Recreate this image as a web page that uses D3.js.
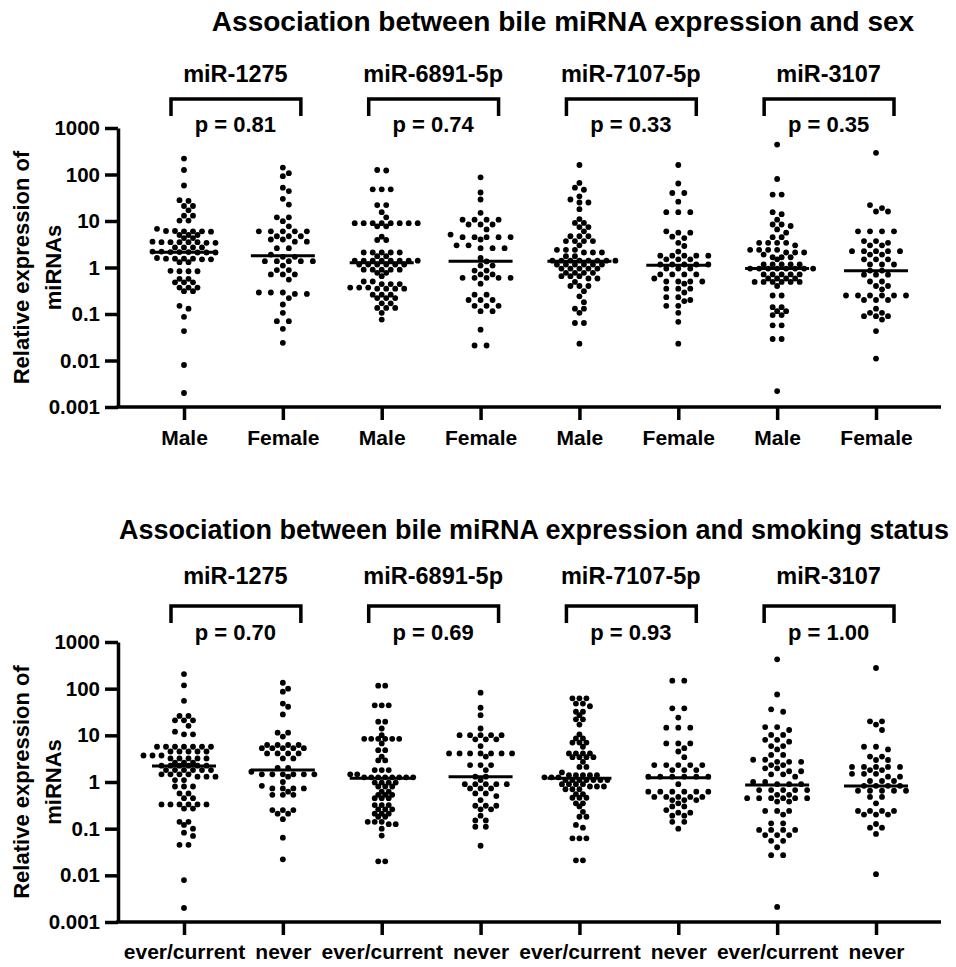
<!DOCTYPE html>
<html>
<head>
<meta charset="utf-8">
<script src="https://cdn.jsdelivr.net/npm/d3@7"></script>
<style>
  body { margin: 0; background: #fff; }
  svg { font-family: "Liberation Sans", Arial, sans-serif; font-weight: bold; }
</style>
</head>
<body>
<svg id="chart" width="956" height="967"></svg>
<script>
// ---- data ----
const mirnas = ["miR-1275", "miR-6891-5p", "miR-7107-5p", "miR-3107"];
const sexCategories = ["Male", "Female"];
const smokingCategories = ["ever/current", "never"];
const sexPValues = ["0.81", "0.74", "0.33", "0.35"];
const smokingPValues = ["0.70", "0.69", "0.93", "1.00"];
const sexMedians = [2.13, 1.8, 1.26, 1.37, 1.37, 1.12, 0.95, 0.85];
const smokingMedians = [2.2, 1.8, 1.2, 1.3, 1.2, 1.24, 0.86, 0.82];
const yTicks = [1000, 100, 10, 1, 0.1, 0.01, 0.001];
const yTickLabels = ["1000", "100", "10", "1", "0.1", "0.01", "0.001"];

// sex panel
const sexMale1275 = [220, 125, 58, 27, 28, 21, 21, 17, 13, 13, 10.2, 10.2, 6.8,
  6.0, 6.1, 6.0, 5.9, 6.0, 6.1, 5.0, 5.0, 5.0, 4.3, 4.3,
  3.5, 3.5, 3.4, 3.5, 3.6, 3.5, 3.5, 3.4, 2.7, 2.7, 2.7, 2.7,
  2.15, 2.1, 2.2, 2.15, 2.1, 2.2, 2.15, 2.1, 1.55, 1.55, 1.5, 1.6, 1.55, 1.55, 1.5,
  1.3, 1.3, 0.83, 0.83, 0.85, 0.83, 0.57, 0.57, 0.48, 0.48, 0.48,
  0.37, 0.37, 0.37, 0.31, 0.31, 0.15, 0.13, 0.087, 0.043, 0.008, 0.002];
const sexFemale1275 = [141, 107, 92, 52, 44, 30, 22.6, 12, 12, 9.9, 7.7,
  6.0, 6.0, 6.0, 6.0, 6.0, 4.7, 4.7, 4.7, 4.0, 4.0, 3.6, 3.6, 2.6, 2.6,
  1.9, 1.7, 1.7, 1.37, 1.37, 1.37, 1.37, 1.37, 1.1, 0.88, 0.88,
  0.71, 0.71, 0.71, 0.55, 0.29, 0.29, 0.29, 0.27, 0.27, 0.22,
  0.16, 0.106, 0.07, 0.07, 0.048, 0.024];
const sexMale6891 = [125, 122, 48, 48, 48, 22, 22, 15.5, 12,
  9.0, 9.0, 9.0, 9.0, 9.0, 9.0, 9.0, 9.0, 7.7, 7.7, 4.6, 3.9, 3.9,
  2.1, 2.1, 2.1, 2.1, 2.1, 1.75, 1.75,
  1.4, 1.4, 1.4, 1.4, 1.4, 1.4, 1.4, 1.4, 1.16, 1.16, 1.16, 1.16, 1.16, 1.16,
  0.9, 0.9, 0.9, 0.9, 0.9, 0.77, 0.77, 0.65, 0.5, 0.5, 0.44, 0.44, 0.44,
  0.37, 0.37, 0.37, 0.35, 0.35, 0.35, 0.35, 0.26, 0.26, 0.26, 0.22, 0.22, 0.22,
  0.17, 0.17, 0.135, 0.135, 0.135, 0.106, 0.076];
const sexFemale6891 = [87, 41, 29, 15, 10.7, 10.7, 10.7, 10.7, 8.4, 8.4, 8.4, 6.6, 5.1,
  4.5, 4.5, 4.5, 4.5, 4.5, 4.0, 3.0, 3.0, 2.6, 2.6, 2.6, 1.6, 1.35, 1.1, 1.1,
  0.86, 0.86, 0.71, 0.71, 0.6, 0.6, 0.6, 0.6, 0.6, 0.45, 0.26, 0.26,
  0.2, 0.2, 0.2, 0.15, 0.15, 0.15, 0.115, 0.115, 0.046, 0.021, 0.021];
const sexMale7107 = [160, 66, 52, 47, 34, 29, 25, 25, 18, 11, 9.1, 9.1, 7.4, 7.4, 6.0,
  4.7, 4.7, 4.7, 3.7, 3.7, 3.7, 3.7, 3.0, 2.4, 2.4, 2.4, 2.1, 2.1, 2.1, 1.75, 1.75,
  1.4, 1.4, 1.4, 1.4, 1.4, 1.4, 1.4, 1.4, 1.16, 1.16, 1.16, 1.16, 1.16, 1.16,
  0.95, 0.95, 0.95, 0.95, 0.95, 0.77, 0.77, 0.77, 0.77, 0.65, 0.65, 0.65, 0.58, 0.58,
  0.49, 0.4, 0.4, 0.4, 0.31, 0.24, 0.18, 0.13, 0.13, 0.106, 0.064, 0.064, 0.023];
const sexFemale7107 = [160, 64, 40, 40, 26, 15.5, 15.5, 15.5, 6.0, 5.6, 5.6, 4.6, 4.3,
  3.4, 2.9, 2.2, 1.8, 1.8, 1.8, 1.8, 1.8, 1.5, 1.5, 1.5, 1.16, 1.16, 1.16, 1.16, 1.16,
  0.95, 0.95, 0.95, 0.71, 0.71, 0.71, 0.71, 0.58, 0.5, 0.5, 0.5, 0.5, 0.45,
  0.35, 0.35, 0.35, 0.29, 0.23, 0.23, 0.2, 0.19, 0.15, 0.15, 0.106, 0.068, 0.023];
const sexMale3107 = [440, 80, 37, 37, 15.5, 14, 10.7, 8.4, 8.4, 7.8, 6.6, 5.6, 4.5, 4.5,
  3.4, 3.4, 3.4, 3.4, 3.0, 2.4, 2.4, 2.4, 2.4, 2.1, 2.1, 2.1, 1.9, 1.66, 1.66, 1.66, 1.5,
  1.16, 1.16, 1.16, 1.16, 1.16, 0.95, 0.95, 0.95, 0.95, 0.95, 0.95, 0.95, 0.95,
  0.71, 0.71, 0.71, 0.71, 0.71, 0.58, 0.58, 0.58, 0.58, 0.49, 0.49, 0.49, 0.49, 0.49, 0.49,
  0.4, 0.25, 0.25, 0.14, 0.14, 0.115, 0.115, 0.095, 0.095, 0.057, 0.057, 0.029, 0.029, 0.0022];
const sexFemale3107 = [292, 22, 19, 16, 16, 6.0, 6.0, 6.0, 6.0, 3.7, 3.7, 3.4, 3.0, 3.0,
  2.24, 2.24, 2.24, 2.24, 2.24, 1.9, 1.9, 1.5, 1.5, 1.5, 1.16, 1.16, 1.16, 0.86, 0.86,
  0.7, 0.7, 0.7, 0.5, 0.5, 0.4, 0.4, 0.34, 0.25, 0.25, 0.25, 0.25, 0.25, 0.25,
  0.2, 0.2, 0.2, 0.13, 0.106, 0.106, 0.09, 0.09, 0.09, 0.076, 0.043, 0.011];

// smoking panel
const smokEver1275 = [205, 118, 55, 26, 26, 21, 21, 21, 16, 12, 10.5, 10.5,
  5.7, 5.7, 5.7, 5.7, 5.7, 5.7, 5.7, 4.5, 4.5, 4.5, 4.5, 4.5, 3.7, 3.7, 3.7,
  3.2, 3.2, 3.2, 3.2, 3.2, 2.6, 2.6, 2.6, 2.24, 2.24, 2.24, 2.24, 2.24, 2.24,
  1.8, 1.8, 1.8, 1.8, 1.8, 1.8, 1.46, 1.46, 1.46, 1.46, 1.3, 1.3, 1.3, 1.1, 1.1,
  0.8, 0.8, 0.8, 0.57, 0.57, 0.45, 0.45, 0.33, 0.33, 0.33, 0.33, 0.33, 0.33, 0.27, 0.27,
  0.14, 0.14, 0.12, 0.1, 0.082, 0.07, 0.045, 0.045, 0.0079, 0.002];
const smokNever1275 = [134, 100, 86, 48, 41, 28, 11.4, 11.4, 9.4, 6.2, 6.2, 6.2, 6.2,
  5.3, 5.3, 5.3, 5.3, 5.3, 4.1, 4.1, 4.1, 4.1, 3.2, 3.2, 2.0, 2.0, 1.66,
  1.46, 1.46, 1.46, 1.46, 1.46, 1.46, 1.3, 1.0, 0.83, 0.73, 0.73, 0.73, 0.73, 0.62,
  0.53, 0.53, 0.53, 0.25, 0.25, 0.25, 0.21, 0.21, 0.16, 0.064, 0.022];
const smokEver6891 = [116, 116, 44, 44, 44, 19.6, 19.6, 14, 10.1,
  8.4, 8.4, 8.4, 8.4, 8.4, 8.4, 6.7, 4.8, 4.8, 3.5, 2.9, 2.9, 1.8, 1.8, 1.8, 1.46, 1.46,
  1.26, 1.26, 1.26, 1.26, 1.26, 1.26, 1.26, 1.26, 0.97, 0.97, 0.97, 0.97, 0.8, 0.8, 0.8,
  0.62, 0.62, 0.53, 0.53, 0.53, 0.45, 0.45, 0.45, 0.32, 0.32, 0.32, 0.26, 0.26, 0.26,
  0.21, 0.21, 0.21, 0.18, 0.18, 0.14, 0.14, 0.14, 0.125, 0.125, 0.1, 0.071, 0.02, 0.02];
const smokNever6891 = [82, 39, 27, 14, 10.1, 10.1, 10.1, 10.1, 10.1, 8.2, 8.2, 8.2, 5.9,
  4.1, 4.1, 4.1, 4.1, 4.1, 4.1, 4.1, 3.5, 2.3, 2.3, 2.3, 1.8, 1.3, 1.3, 1.1,
  0.9, 0.9, 0.9, 0.9, 0.9, 0.73, 0.73, 0.73, 0.57, 0.57, 0.5, 0.41, 0.31, 0.31, 0.31,
  0.26, 0.26, 0.19, 0.15, 0.15, 0.11, 0.11, 0.043];
const smokEver7107 = [62, 62, 62, 48, 48, 42, 32, 32, 27, 22, 22, 17, 10.5, 8.6, 8.6,
  7.0, 7.0, 7.0, 5.7, 4.1, 4.1, 4.1, 4.1, 3.4, 3.4, 3.4, 3.4, 2.7, 2.1, 2.1, 1.6,
  1.4, 1.4, 1.4, 1.4, 1.4, 1.26, 1.26, 1.26, 1.1, 1.1, 1.1, 1.1, 1.1, 1.1, 1.1,
  0.9, 0.9, 0.9, 0.9, 0.8, 0.8, 0.8, 0.7, 0.7, 0.7, 0.55, 0.55, 0.46, 0.46, 0.46,
  0.35, 0.35, 0.3, 0.23, 0.18, 0.18, 0.12, 0.105, 0.062, 0.062, 0.062, 0.021, 0.021];
const smokNever7107 = [148, 148, 38, 38, 24, 14.6, 14.6, 14.6, 6.7, 6.7, 6.7, 5.3, 4.5, 3.4,
  2.3, 2.3, 2.3, 2.3, 2.3, 1.8, 1.8, 1.8, 1.3, 1.3, 1.3, 1.3, 1.3, 1.3, 0.9,
  0.62, 0.62, 0.62, 0.62, 0.62, 0.62, 0.48, 0.48, 0.48, 0.48, 0.48, 0.41, 0.41, 0.41,
  0.35, 0.3, 0.3, 0.25, 0.22, 0.22, 0.19, 0.19, 0.14, 0.14, 0.1];
const smokEver3107 = [425, 75, 36, 32, 15, 15, 13, 10.2, 10.2, 8.0, 8.0, 7.3, 5.9, 5.9, 5.0,
  3.8, 3.8, 3.0, 3.0, 2.7, 2.7, 2.7, 2.3, 2.3, 1.96, 1.96, 1.7, 1.7, 1.46, 1.46, 1.3,
  1.0, 1.0, 0.9, 0.9, 0.9, 0.67, 0.67, 0.67, 0.67, 0.67, 0.53, 0.53,
  0.45, 0.45, 0.45, 0.45, 0.45, 0.45, 0.38, 0.38, 0.24, 0.24, 0.24, 0.2, 0.13, 0.13,
  0.094, 0.094, 0.094, 0.094, 0.073, 0.073, 0.073, 0.055, 0.055, 0.04, 0.027, 0.027, 0.0021];
const smokNever3107 = [277, 20, 20, 17, 13, 5.7, 5.7, 5.0, 3.5, 3.5, 2.96, 2.96,
  2.1, 2.1, 2.1, 2.1, 2.1, 1.8, 1.8, 1.5, 1.5, 1.5, 1.3, 1.3, 1.05, 1.05, 1.05,
  0.83, 0.83, 0.83, 0.83, 0.65, 0.65, 0.65, 0.65, 0.65, 0.48, 0.48, 0.35,
  0.24, 0.24, 0.24, 0.24, 0.2, 0.2, 0.2, 0.126, 0.105, 0.105, 0.077, 0.0106];

const panels = [
  {
    title: "Association between bile miRNA expression and sex",
    titleX: 563, titleY: 31, titleSize: 28, subY: 82, brTop: 99, brBot: 116, pY: 132,
    yTop: 128, yBottom: 407, labelY: 445,
    categories: sexCategories, pValues: sexPValues, medians: sexMedians,
    groups: [sexMale1275, sexFemale1275, sexMale6891, sexFemale6891,
             sexMale7107, sexFemale7107, sexMale3107, sexFemale3107]
  },
  {
    title: "Association between bile miRNA expression and smoking status",
    titleX: 534, titleY: 539, titleSize: 27, subY: 584, brTop: 606, brBot: 623, pY: 640,
    yTop: 642, yBottom: 922, labelY: 959,
    categories: smokingCategories, pValues: smokingPValues, medians: smokingMedians,
    groups: [smokEver1275, smokNever1275, smokEver6891, smokNever6891,
             smokEver7107, smokNever7107, smokEver3107, smokNever3107]
  }
];

const svg = d3.select("#chart");
const axisX0 = 118, axisX1 = 941;
const x = d3.scalePoint().domain(d3.range(8)).range([184, 876]);

// GraphPad-like column scatter: values falling in the same row are spread sideways
function swarm(values, cx, y) {
  const pts = values.map(v => ({ v: v, y: y(v) })).sort((a, b) => a.y - b.y);
  const rows = [];
  pts.forEach(p => {
    const last = rows[rows.length - 1];
    if (last && p.y - last[0].y <= 3) last.push(p);
    else rows.push([p]);
  });
  const maxRow = d3.max(rows, r => r.length);
  const s = maxRow > 1 ? Math.min(12, 63 / (maxRow - 1)) : 0;
  const placed = [];
  rows.forEach(r => {
    const n = r.length;
    const base = r.map((p, i) => (i - (n - 1) / 2) * s);
    const shifts = [0, s / 2, -s / 2, s, -s];
    let best = 0, bestD = -1;
    for (const sh of shifts) {
      let minD = Infinity;
      r.forEach((p, i) => {
        placed.forEach(q => {
          const d = Math.hypot(base[i] + sh - q.dx, p.y - q.y);
          if (d < minD) minD = d;
        });
      });
      if (minD >= 6) { best = sh; break; }
      if (minD > bestD) { bestD = minD; best = sh; }
    }
    r.forEach((p, i) => { p.dx = base[i] + best; placed.push(p); });
  });
  return pts.map(p => ({ v: p.v, y: p.y, x: cx + p.dx }));
}

panels.forEach(panel => {
  const g = svg.append("g");
  const y = d3.scaleLog().domain([0.001, 1000]).range([panel.yBottom, panel.yTop]);

  // title
  g.append("text")
    .attr("x", panel.titleX).attr("y", panel.titleY)
    .attr("text-anchor", "middle").style("font-size", panel.titleSize + "px")
    .text(panel.title);

  // miRNA names, brackets, p values
  mirnas.forEach((name, k) => {
    const xa = x(2 * k), xb = x(2 * k + 1);
    const mid = (xa + xb) / 2 + 2;
    g.append("text")
      .attr("x", mid).attr("y", panel.subY)
      .attr("text-anchor", "middle").style("font-size", "23.5px")
      .text(name);
    g.append("path")
      .attr("d", `M${xa - 13},${panel.brBot}V${panel.brTop}H${xb + 18}V${panel.brBot}`)
      .attr("fill", "none").attr("stroke", "#000").attr("stroke-width", 3.5);
    g.append("text")
      .attr("x", mid).attr("y", panel.pY)
      .attr("text-anchor", "middle").style("font-size", "22px")
      .text("p = " + panel.pValues[k]);
  });

  // y axis
  const yAxis = g.append("g")
    .attr("transform", `translate(${axisX0},0)`)
    .call(d3.axisLeft(y).tickValues(yTicks)
      .tickFormat((d, i) => yTickLabels[i]).tickSize(13).tickSizeOuter(0).tickPadding(5));
  yAxis.select(".domain").attr("stroke-width", 3.5);
  yAxis.selectAll(".tick line").attr("stroke-width", 3.5);
  yAxis.selectAll(".tick text").style("font-size", "20.5px").style("font-family", "inherit")
    .attr("fill", "#000");

  // x axis
  const xAxis = g.append("g")
    .attr("transform", `translate(0,${panel.yBottom})`)
    .call(d3.axisBottom(x).tickFormat(i => panel.categories[i % 2]).tickSize(13).tickPadding(8));
  xAxis.select(".domain").remove();
  xAxis.selectAll(".tick line").attr("stroke-width", 3.5);
  xAxis.selectAll(".tick text").style("font-size", "21px").style("font-family", "inherit")
    .attr("fill", "#000").attr("dy", null)
    .attr("y", panel.labelY - panel.yBottom);
  g.append("line")
    .attr("x1", axisX0 - 1.75).attr("x2", axisX1)
    .attr("y1", panel.yBottom).attr("y2", panel.yBottom)
    .attr("stroke", "#000").attr("stroke-width", 3.5);

  // y axis title
  const cy = (panel.yTop + panel.yBottom) / 2;
  g.append("text")
    .attr("transform", `translate(29,${cy}) rotate(-90)`)
    .attr("text-anchor", "middle").style("font-size", "22px")
    .text("Relative expression of");
  g.append("text")
    .attr("transform", `translate(61,${cy}) rotate(-90)`)
    .attr("text-anchor", "middle").style("font-size", "22px")
    .text("miRNAs");

  // dots and medians
  panel.groups.forEach((vals, i) => {
    const pts = swarm(vals, x(i), y);
    g.append("g").selectAll("circle")
      .data(pts).enter().append("circle")
      .attr("cx", d => d.x).attr("cy", d => d.y)
      .attr("r", 2.9).attr("fill", "#000");
    g.append("line")
      .attr("x1", x(i) - 32).attr("x2", x(i) + 32)
      .attr("y1", y(panel.medians[i])).attr("y2", y(panel.medians[i]))
      .attr("stroke", "#000").attr("stroke-width", 3);
  });
});
</script>
</body>
</html>
